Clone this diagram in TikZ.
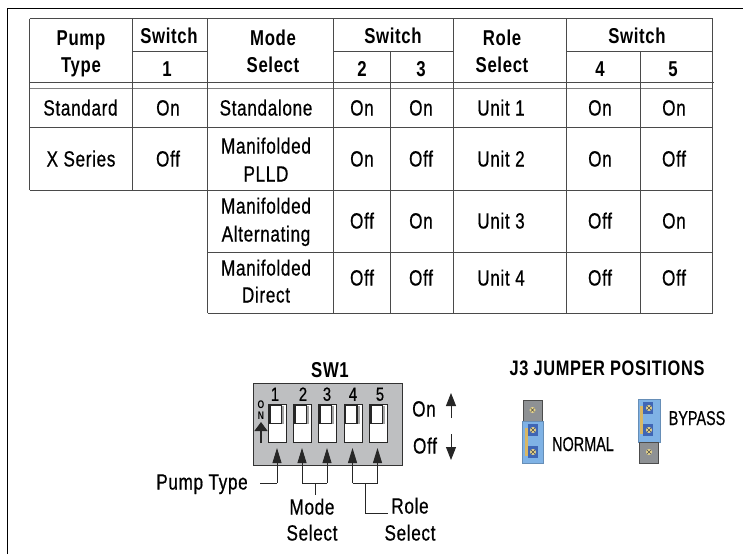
\documentclass[tikz,border=0pt]{standalone}
\usepackage{fontspec}
\setmainfont{Liberation Sans}[FakeStretch=0.78,LetterSpace=3,UprightFeatures={FakeBold=0.6}]
\newfontfamily\jumperfont{Liberation Sans}[FakeStretch=0.72,FakeBold=0.5]
\usetikzlibrary{arrows.meta}
\definecolor{rulec}{HTML}{4A4A4A}
\definecolor{bodyc}{HTML}{BEBFC1}
\definecolor{jblue}{HTML}{7FB2E5}
\definecolor{jdark}{HTML}{3F66B5}
\definecolor{jtan}{HTML}{D8B764}
\definecolor{jgrey}{HTML}{8E9194}
\definecolor{jpin}{HTML}{E6D48A}
\tikzset{
  hd/.style={inner sep=0pt,text height=15pt,text depth=0pt,font=\fontsize{21.5}{22}\selectfont\bfseries},
  jh/.style={inner sep=0pt,text height=15pt,text depth=0pt,font=\fontsize{21}{22}\selectfont\bfseries},
  lbl/.style={inner sep=0pt,text height=15pt,text depth=0pt,font=\fontsize{22}{22}\selectfont},
  jl/.style={inner sep=0pt,text height=14pt,text depth=0pt,font=\jumperfont\fontsize{20}{22}\selectfont},
  num/.style={inner sep=0pt,text height=13.5pt,text depth=0pt,font=\fontsize{19}{20}\selectfont},
  grid/.style={draw=rulec,line width=0.9pt},
  conn/.style={draw=black!85,line width=0.9pt},
  tip/.style={conn,-{Triangle[length=15pt,width=9pt]}},
  big/.style={draw=black!85,line width=0.9pt,-{Triangle[length=13pt,width=10pt]}},
}
\newcommand{\dipswitch}[2]{%
  \node[draw=black!85,line width=1.4pt,fill=white,minimum width=18pt,minimum height=38pt,inner sep=0pt,anchor=north west] (sw#1) at (#2,404) {};
  \fill[gray!70] (#2+2,405.5) rectangle (#2+16,424);
  \draw[black!85,line width=1.1pt,fill=white] (#2+2,405.5) rectangle (#2+13.5,423.5);
}
\newcommand{\pin}[1]{%
  \fill[jpin] (#1) circle (3pt);
  \draw[black!70,line width=0.6pt] (#1) ++(-1.8pt,-1.8pt) -- ++(3.6pt,3.6pt) (#1) ++(-1.8pt,1.8pt) -- ++(3.6pt,-3.6pt);
}
\begin{document}
\begin{tikzpicture}[x=1pt,y=-1pt]
\useasboundingbox (0,0) rectangle (743,554);
\fill[white] (0,0) rectangle (743,554);
% frame
\draw[black,line width=1pt] (7.5,554) -- (7.5,8.5) -- (743,8.5);
% table rules
\draw[grid] (29.5,18.5) -- (712.5,18.5);
\draw[grid] (132.5,51) -- (207.5,51) (333,51) -- (453.5,51) (566.5,51) -- (712.5,51);
\draw[grid] (29,82.5) -- (714,82.5);
\draw[grid,draw=gray] (29.5,88.5) -- (712.5,88.5);
\draw[grid] (29.5,127) -- (712.5,127);
\draw[grid] (29.5,190) -- (712.5,190);
\draw[grid] (207.5,252) -- (712.5,252);
\draw[grid] (207.5,313) -- (712.5,313);
\draw[grid] (29.5,18.5) -- (29.5,190);
\draw[grid] (132.5,18.5) -- (132.5,190);
\draw[grid] (207.5,18.5) -- (207.5,313);
\draw[grid] (333,18.5) -- (333,313);
\draw[grid] (390.8,51) -- (390.8,313);
\draw[grid] (453.5,18.5) -- (453.5,313);
\draw[grid] (566.5,18.5) -- (566.5,313);
\draw[grid] (640,51) -- (640,313);
\draw[grid] (712.5,18.5) -- (712.5,313);
% header
\node[hd] (h1a) at (81,38) {Pump};
\node[hd] (h1b) at (81,65) {Type};
\node[hd] (h2a) at (169,36) {Switch};
\node[hd] (h2b) at (167,69) {1};
\node[hd] (h3a) at (273,38) {Mode};
\node[hd] (h3b) at (273,65) {Select};
\node[hd] (h4a) at (393,36) {Switch};
\node[hd] (h4b) at (362,69) {2};
\node[hd] (h4c) at (421,69) {3};
\node[hd] (h5a) at (502,38) {Role};
\node[hd] (h5b) at (502,65) {Select};
\node[hd] (h6a) at (637,36) {Switch};
\node[hd] (h6b) at (600,69) {4};
\node[hd] (h6c) at (673,69) {5};
% rows
\node[lbl] (r1a) at (80.5,108) {Standard};
\node[lbl] (r1b) at (168,108) {On};
\node[lbl] (r1c) at (266,108) {Standalone};
\node[lbl] (r1d) at (362,108) {On};
\node[lbl] (r1e) at (421,108) {On};
\node[lbl] (r1f) at (501,108) {Unit 1};
\node[lbl] (r1g) at (600,108) {On};
\node[lbl] (r1h) at (674,108) {On};
\node[lbl] (r2a) at (81,159) {X Series};
\node[lbl] (r2b) at (168,159) {Off};
\node[lbl] (r2c) at (266,146) {Manifolded};
\node[lbl] (r2c2) at (266,174) {PLLD};
\node[lbl] (r2d) at (362,159) {On};
\node[lbl] (r2e) at (421,159) {Off};
\node[lbl] (r2f) at (501,159) {Unit 2};
\node[lbl] (r2g) at (600,159) {On};
\node[lbl] (r2h) at (674,159) {Off};
\node[lbl] (r3c) at (266,206) {Manifolded};
\node[lbl] (r3c2) at (266,234) {Alternating};
\node[lbl] (r3d) at (362,221) {Off};
\node[lbl] (r3e) at (421,221) {On};
\node[lbl] (r3f) at (501,221) {Unit 3};
\node[lbl] (r3g) at (600,221) {Off};
\node[lbl] (r3h) at (674,221) {On};
\node[lbl] (r4c) at (266,268) {Manifolded};
\node[lbl] (r4c2) at (266,295) {Direct};
\node[lbl] (r4d) at (362,278) {Off};
\node[lbl] (r4e) at (421,278) {Off};
\node[lbl] (r4f) at (501,278) {Unit 4};
\node[lbl] (r4g) at (600,278) {Off};
\node[lbl] (r4h) at (674,278) {Off};
% SW1
\node[hd] (swt) at (330,370) {SW1};
\node[draw=black!80,line width=1pt,fill=bodyc,minimum width=149pt,minimum height=82pt,inner sep=0pt,anchor=north west] (body) at (253,383) {};
\dipswitch{1}{268}
\dipswitch{2}{293}
\dipswitch{3}{318}
\dipswitch{4}{343.5}
\dipswitch{5}{369}
\node[num] (n1) at (275,394) {1};
\node[num] (n2) at (303,394) {2};
\node[num] (n3) at (327,394) {3};
\node[num] (n4) at (353,394) {4};
\node[num] (n5) at (380,394) {5};
\node[inner sep=0pt,font=\fontsize{11}{11}\selectfont\bfseries] (ono) at (261,405) {O};
\node[inner sep=0pt,font=\fontsize{11}{11}\selectfont\bfseries] (onn) at (261,416) {N};
\coordinate (ontop) at (261,422);
\coordinate (onbot) at (261,443);
\draw[conn,line width=1.1pt,-{Triangle[length=9pt,width=13pt]}] (onbot) -- (ontop);
% pointer bracket corners
\coordinate (a1) at (277,448); \coordinate (b1) at (277,483);
\coordinate (a2) at (302,448); \coordinate (b2) at (302,483);
\coordinate (a3) at (327,448); \coordinate (b3) at (327,483);
\coordinate (a4) at (352.5,448); \coordinate (b4) at (352.5,483);
\coordinate (a5) at (377.5,448); \coordinate (b5) at (377.5,483);
\draw[tip] (b1) -- (a1);
\draw[tip] (b2) -- (a2);
\draw[tip] (b3) -- (a3);
\draw[tip] (b4) -- (a4);
\draw[tip] (b5) -- (a5);
\node[lbl] (pt) at (202,482) {Pump Type};
\coordinate (ptend) at (260,483);
\draw[conn] (ptend) -- (b1);
\draw[conn] (b2) -- (b3);
\draw[conn] (b4) -- (b5);
\coordinate (mm) at (315,483); \coordinate (mb) at (315,495);
\draw[conn] (mm) -- (mb);
\coordinate (rm) at (365,483); \coordinate (rb) at (365,513); \coordinate (re) at (388,513);
\draw[conn] (rm) -- (rb) -- (re);
\node[lbl] (ms1) at (312,507) {Mode};
\node[lbl] (ms2) at (312,533) {Select};
\node[lbl] (rs1) at (410,506) {Role};
\node[lbl] (rs2) at (410,533) {Select};
\node[lbl] (on) at (424,409) {On};
\node[lbl] (off) at (425,446) {Off};
\coordinate (ua) at (451,418); \coordinate (ub) at (451,393);
\coordinate (da) at (451,434); \coordinate (db) at (451,460);
\draw[big] (ua) -- (ub);
\draw[big] (da) -- (db);
% jumpers
\node[jh] (j3) at (607,368) {J3 JUMPER POSITIONS};
\fill[jgrey,draw=gray!60!black,line width=0.5pt] (523,400) rectangle (542,421);
\fill[jblue,draw=jblue!80!black,line width=0.5pt] (522,421) rectangle (543.5,463);
\fill[jdark] (528,424) rectangle (538,436);
\fill[jdark] (528,446) rectangle (538,457.5);
\fill[jtan] (525,428) rectangle (527.7,456);
\pin{532.5,410}
\pin{533,430}
\pin{533,452}
\node[jl] (nor) at (583,444) {NORMAL};
\fill[jblue,draw=jblue!80!black,line width=0.5pt] (638,399) rectangle (660,442);
\fill[jgrey,draw=gray!60!black,line width=0.5pt] (639,442) rectangle (658,463);
\fill[jdark] (643,402) rectangle (653,414);
\fill[jdark] (643,424) rectangle (653,436);
\fill[jtan] (640,406) rectangle (642.7,434);
\pin{649,408}
\pin{649,430}
\pin{649,452}
\node[jl] (byp) at (697,418) {BYPASS};
\end{tikzpicture}
\end{document}
